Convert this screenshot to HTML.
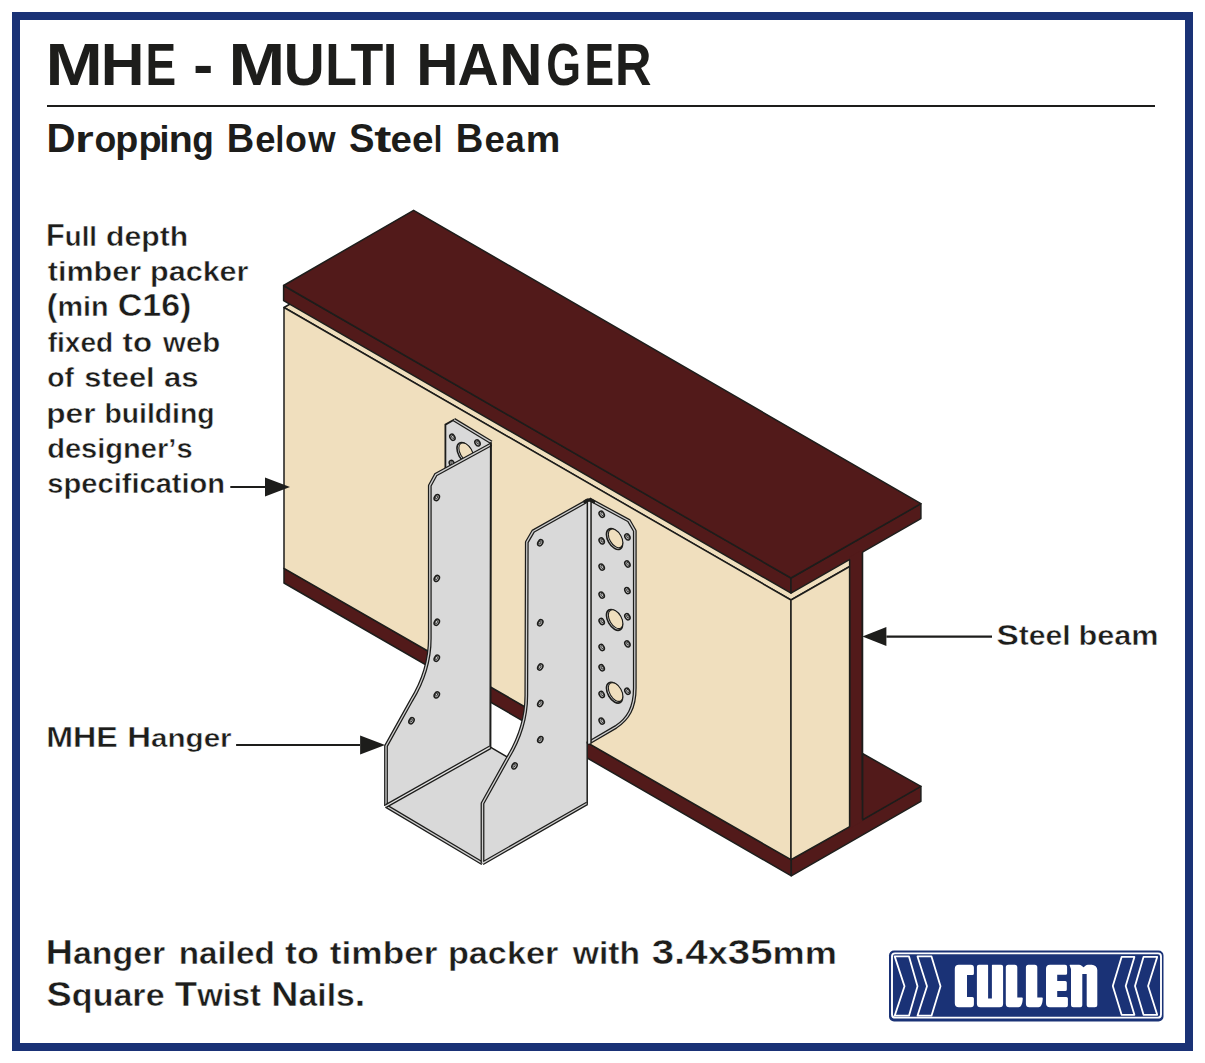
<!DOCTYPE html>
<html><head><meta charset="utf-8"><title>MHE - Multi Hanger</title>
<style>html,body{margin:0;padding:0;background:#fff;width:1205px;height:1063px;overflow:hidden}svg{display:block}</style>
</head><body>
<svg width="1205" height="1063" viewBox="0 0 1205 1063">
<rect width="1205" height="1063" fill="#fff"/>
<rect x="16" y="16" width="1173" height="1031" fill="none" stroke="#1a3276" stroke-width="8"/>
<rect x="47" y="105" width="1108" height="2" fill="#1d1d1b"/>
<g font-weight="bold" fill="#1d1d1b" style="font-family:'Liberation Sans', sans-serif;font-kerning:none;font-variant-ligatures:none">
<text x="45.40" y="84.8" font-size="59.60" textLength="57.30" lengthAdjust="spacingAndGlyphs">M</text><text x="100.75" y="84.8" font-size="59.60" textLength="43.73" lengthAdjust="spacingAndGlyphs">H</text><text x="145.62" y="84.8" font-size="59.60" textLength="30.67" lengthAdjust="spacingAndGlyphs">E</text><text x="193.16" y="84.8" font-size="59.60" textLength="19.94" lengthAdjust="spacingAndGlyphs">-</text><text x="228.45" y="84.8" font-size="59.60" textLength="56.71" lengthAdjust="spacingAndGlyphs">M</text><text x="283.79" y="84.8" font-size="59.60" textLength="40.97" lengthAdjust="spacingAndGlyphs">U</text><text x="325.23" y="84.8" font-size="59.60" textLength="31.66" lengthAdjust="spacingAndGlyphs">L</text><text x="350.50" y="84.8" font-size="59.60" textLength="32.78" lengthAdjust="spacingAndGlyphs">T</text><text x="382.67" y="84.8" font-size="59.60" textLength="14.66" lengthAdjust="spacingAndGlyphs">I</text><text x="416.29" y="84.8" font-size="59.60" textLength="42.26" lengthAdjust="spacingAndGlyphs">H</text><text x="457.38" y="84.8" font-size="59.60" textLength="41.23" lengthAdjust="spacingAndGlyphs">A</text><text x="499.39" y="84.8" font-size="59.60" textLength="43.24" lengthAdjust="spacingAndGlyphs">N</text><text x="546.16" y="84.8" font-size="59.60" textLength="34.81" lengthAdjust="spacingAndGlyphs">G</text><text x="584.43" y="84.8" font-size="59.60" textLength="29.60" lengthAdjust="spacingAndGlyphs">E</text><text x="615.12" y="84.8" font-size="59.60" textLength="36.52" lengthAdjust="spacingAndGlyphs">R</text>
<text x="46.51" y="151.7" font-size="40.70" textLength="29.09" lengthAdjust="spacingAndGlyphs">D</text><text x="75.03" y="151.7" font-size="36.63" textLength="18.69" lengthAdjust="spacingAndGlyphs">r</text><text x="94.41" y="151.7" font-size="36.63" textLength="21.79" lengthAdjust="spacingAndGlyphs">o</text><text x="115.21" y="151.7" font-size="36.63" textLength="23.03" lengthAdjust="spacingAndGlyphs">p</text><text x="138.40" y="151.7" font-size="36.63" textLength="23.15" lengthAdjust="spacingAndGlyphs">p</text><text x="159.61" y="151.7" font-size="36.63" textLength="9.92" lengthAdjust="spacingAndGlyphs">i</text><text x="168.71" y="151.7" font-size="36.63" textLength="24.03" lengthAdjust="spacingAndGlyphs">n</text><text x="192.36" y="151.7" font-size="36.63" textLength="21.50" lengthAdjust="spacingAndGlyphs">g</text><text x="226.66" y="151.7" font-size="40.70" textLength="27.47" lengthAdjust="spacingAndGlyphs">B</text><text x="255.28" y="151.7" font-size="36.63" textLength="20.27" lengthAdjust="spacingAndGlyphs">e</text><text x="275.61" y="151.7" font-size="36.63" textLength="8.71" lengthAdjust="spacingAndGlyphs">l</text><text x="284.90" y="151.7" font-size="36.63" textLength="21.90" lengthAdjust="spacingAndGlyphs">o</text><text x="308.30" y="151.7" font-size="36.63" textLength="27.33" lengthAdjust="spacingAndGlyphs">w</text><text x="348.90" y="151.7" font-size="40.70" textLength="25.49" lengthAdjust="spacingAndGlyphs">S</text><text x="374.27" y="151.7" font-size="36.63" textLength="17.16" lengthAdjust="spacingAndGlyphs">t</text><text x="390.60" y="151.7" font-size="36.63" textLength="21.42" lengthAdjust="spacingAndGlyphs">e</text><text x="412.09" y="151.7" font-size="36.63" textLength="21.54" lengthAdjust="spacingAndGlyphs">e</text><text x="433.76" y="151.7" font-size="36.63" textLength="8.50" lengthAdjust="spacingAndGlyphs">l</text><text x="455.84" y="151.7" font-size="40.70" textLength="27.59" lengthAdjust="spacingAndGlyphs">B</text><text x="484.47" y="151.7" font-size="36.63" textLength="20.38" lengthAdjust="spacingAndGlyphs">e</text><text x="505.39" y="151.7" font-size="36.63" textLength="19.09" lengthAdjust="spacingAndGlyphs">a</text><text x="525.74" y="151.7" font-size="36.63" textLength="34.57" lengthAdjust="spacingAndGlyphs">m</text>
<g stroke="#fff" stroke-width="0.45">
<text x="46.13" y="245.9" font-size="30.50" textLength="18.70" lengthAdjust="spacingAndGlyphs">F</text><text x="64.83" y="245.9" font-size="27.45" textLength="32.14" lengthAdjust="spacingAndGlyphs">ull</text><text x="106.14" y="245.9" font-size="27.45" textLength="82.05" lengthAdjust="spacingAndGlyphs">depth</text>
<text x="47.81" y="280.6" font-size="27.45" textLength="93.27" lengthAdjust="spacingAndGlyphs">timber</text><text x="150.07" y="280.6" font-size="27.45" textLength="98.41" lengthAdjust="spacingAndGlyphs">packer</text>
<text x="46.79" y="316.3" font-size="30.50" textLength="10.65" lengthAdjust="spacingAndGlyphs">(</text><text x="57.44" y="316.3" font-size="27.45" textLength="51.17" lengthAdjust="spacingAndGlyphs">min</text><text x="117.79" y="316.3" font-size="30.50" textLength="73.52" lengthAdjust="spacingAndGlyphs">C16)</text>
<text x="47.70" y="351.6" font-size="27.45" textLength="65.57" lengthAdjust="spacingAndGlyphs">fixed</text><text x="122.50" y="351.6" font-size="27.45" textLength="29.44" lengthAdjust="spacingAndGlyphs">to</text><text x="163.07" y="351.6" font-size="27.45" textLength="57.16" lengthAdjust="spacingAndGlyphs">web</text>
<text x="47.28" y="387.3" font-size="27.45" textLength="26.69" lengthAdjust="spacingAndGlyphs">of</text><text x="84.29" y="387.3" font-size="27.45" textLength="70.41" lengthAdjust="spacingAndGlyphs">steel</text><text x="163.97" y="387.3" font-size="27.45" textLength="34.63" lengthAdjust="spacingAndGlyphs">as</text>
<text x="46.30" y="422.6" font-size="27.45" textLength="49.20" lengthAdjust="spacingAndGlyphs">per</text><text x="104.51" y="422.6" font-size="27.45" textLength="110.00" lengthAdjust="spacingAndGlyphs">building</text>
<text x="47.19" y="457.9" font-size="27.45" textLength="145.42" lengthAdjust="spacingAndGlyphs">designer&#8217;s</text>
<text x="47.36" y="493.0" font-size="27.45" textLength="177.77" lengthAdjust="spacingAndGlyphs">specification</text>
<text x="46.23" y="747.3" font-size="29.50" textLength="71.55" lengthAdjust="spacingAndGlyphs">MHE</text><text x="127.18" y="747.3" font-size="29.50" textLength="23.78" lengthAdjust="spacingAndGlyphs">H</text><text x="150.96" y="747.3" font-size="26.55" textLength="80.71" lengthAdjust="spacingAndGlyphs">anger</text>
<text x="996.41" y="645.3" font-size="30.00" textLength="22.36" lengthAdjust="spacingAndGlyphs">S</text><text x="1018.77" y="645.3" font-size="27.00" textLength="51.98" lengthAdjust="spacingAndGlyphs">teel</text><text x="1078.56" y="645.3" font-size="27.00" textLength="80.06" lengthAdjust="spacingAndGlyphs">beam</text>
<text x="45.76" y="964" font-size="35.60" textLength="27.19" lengthAdjust="spacingAndGlyphs">H</text><text x="72.95" y="964" font-size="32.04" textLength="92.28" lengthAdjust="spacingAndGlyphs">anger</text><text x="178.69" y="964" font-size="32.04" textLength="96.13" lengthAdjust="spacingAndGlyphs">nailed</text><text x="284.94" y="964" font-size="32.04" textLength="33.88" lengthAdjust="spacingAndGlyphs">to</text><text x="329.85" y="964" font-size="32.04" textLength="107.60" lengthAdjust="spacingAndGlyphs">timber</text><text x="447.92" y="964" font-size="32.04" textLength="110.42" lengthAdjust="spacingAndGlyphs">packer</text><text x="572.78" y="964" font-size="32.04" textLength="67.12" lengthAdjust="spacingAndGlyphs">with</text><text x="651.76" y="964" font-size="35.60" textLength="55.93" lengthAdjust="spacingAndGlyphs">3.4</text><text x="707.69" y="964" font-size="32.04" textLength="20.14" lengthAdjust="spacingAndGlyphs">x</text><text x="727.82" y="964" font-size="35.60" textLength="44.75" lengthAdjust="spacingAndGlyphs">35</text><text x="772.57" y="964" font-size="32.04" textLength="64.39" lengthAdjust="spacingAndGlyphs">mm</text>
<text x="46.59" y="1005.5" font-size="35.60" textLength="25.24" lengthAdjust="spacingAndGlyphs">S</text><text x="71.83" y="1005.5" font-size="32.04" textLength="92.75" lengthAdjust="spacingAndGlyphs">quare</text><text x="174.87" y="1005.5" font-size="35.60" textLength="22.29" lengthAdjust="spacingAndGlyphs">T</text><text x="197.16" y="1005.5" font-size="32.04" textLength="63.86" lengthAdjust="spacingAndGlyphs">wist</text><text x="271.37" y="1005.5" font-size="35.60" textLength="27.12" lengthAdjust="spacingAndGlyphs">N</text><text x="298.49" y="1005.5" font-size="32.04" textLength="56.38" lengthAdjust="spacingAndGlyphs">ails</text><text x="354.87" y="1005.5" font-size="35.60" textLength="10.43" lengthAdjust="spacingAndGlyphs">.</text>
</g>
</g>
<polygon points="284.0,568.3 791.3,859.7 791.3,875.8 284.0,583.0" fill="#521a1a" stroke="#1d1d1b" stroke-width="1.5" stroke-linejoin="round" />
<polygon points="791.3,859.7 920.9,786.4 920.9,801.3 791.3,875.8" fill="#521a1a" stroke="#1d1d1b" stroke-width="1.5" stroke-linejoin="round" />
<polygon points="862.4,753.5 920.9,786.4 862.4,820.0" fill="#521a1a" stroke="#1d1d1b" stroke-width="1.5" stroke-linejoin="round" />
<polygon points="284.0,307.5 791.0,600.0 862.0,559.5 355.0,267.0" fill="#f0dfbe" stroke="#1d1d1b" stroke-width="1.5" stroke-linejoin="round" />
<polygon points="284.0,307.5 791.0,600.0 791.0,859.7 284.0,568.3" fill="#f0dfbe" stroke="#1d1d1b" stroke-width="1.5" stroke-linejoin="round" />
<polygon points="791.0,600.0 849.7,566.5 849.7,826.7 791.0,859.7" fill="#f0dfbe" stroke="#1d1d1b" stroke-width="1.5" stroke-linejoin="round" />
<polygon points="849.7,555.0 862.4,548.0 862.4,819.5 849.7,826.7" fill="#521a1a" stroke="#1d1d1b" stroke-width="1.5" stroke-linejoin="round" />
<polygon points="283.6,285.5 791.0,578.0 791.0,593.1 283.6,300.6" fill="#521a1a" stroke="#1d1d1b" stroke-width="1.5" stroke-linejoin="round" />
<polygon points="791.0,578.0 920.9,503.7 920.9,518.6 791.0,593.1" fill="#521a1a" stroke="#1d1d1b" stroke-width="1.5" stroke-linejoin="round" />
<polygon points="283.6,285.5 413.6,210.3 920.9,503.7 791.0,578.0" fill="#521a1a" stroke="#1d1d1b" stroke-width="1.5" stroke-linejoin="round" />
<polygon points="849.7,557.0 862.4,549.8 862.4,600 849.7,600" fill="#521a1a"/>
<polygon points="849.7,800 862.4,800 862.4,821.2 849.7,828.4" fill="#521a1a"/>
<path d="M849.7,559.4 L849.7,826.7 M862.4,552.2 L862.4,819.5" stroke="#1d1d1b" stroke-width="1.5" fill="none"/>
<line x1="230.3" y1="487" x2="265" y2="487" stroke="#1d1d1b" stroke-width="2.2"/><polygon points="265,477.5 290,487 265,496.5" fill="#1d1d1b"/>
<line x1="236.1" y1="745" x2="360.1" y2="745" stroke="#1d1d1b" stroke-width="2.2"/><polygon points="360.1,735.5 385.1,745 360.1,754.5" fill="#1d1d1b"/>
<line x1="886.4" y1="636.6" x2="992" y2="636.6" stroke="#1d1d1b" stroke-width="2.2"/><polygon points="886.4,627.1 862.4,636.6 886.4,646.1" fill="#1d1d1b"/>
<path d="M490.4,441.9 L454.0,419.7 L445.4,424.6 L445.4,600.0 L491.0,600.0 Z" fill="#d9d9d9" stroke="none"/>
<ellipse cx="465.0" cy="453.0" rx="11.39" ry="6.58" transform="rotate(60 465.0 453.0)" fill="#e4e4e4" stroke="#1d1d1b" stroke-width="1.6"/><ellipse cx="466.1" cy="452.3" rx="10.29" ry="5.94" transform="rotate(60 466.1 452.3)" fill="#f0dfbe" stroke="#1d1d1b" stroke-width="1.1"/>
<ellipse cx="452.4" cy="437.2" rx="3.30" ry="2.35" transform="rotate(60 452.4 437.2)" fill="#bcbcbc" stroke="#1d1d1b" stroke-width="1.45"/><ellipse cx="452.8" cy="436.9" rx="1.70" ry="1.00" transform="rotate(60 452.8 436.9)" fill="#d6d6d6" stroke="#1d1d1b" stroke-width="0.8"/>
<ellipse cx="477.5" cy="442.9" rx="3.30" ry="2.35" transform="rotate(60 477.5 442.9)" fill="#bcbcbc" stroke="#1d1d1b" stroke-width="1.45"/><ellipse cx="477.9" cy="442.6" rx="1.70" ry="1.00" transform="rotate(60 477.9 442.6)" fill="#d6d6d6" stroke="#1d1d1b" stroke-width="0.8"/>
<ellipse cx="451.9" cy="463.5" rx="3.30" ry="2.35" transform="rotate(60 451.9 463.5)" fill="#bcbcbc" stroke="#1d1d1b" stroke-width="1.45"/><ellipse cx="452.3" cy="463.2" rx="1.70" ry="1.00" transform="rotate(60 452.3 463.2)" fill="#d6d6d6" stroke="#1d1d1b" stroke-width="0.8"/>
<path d="M445.4,470.0 L445.4,424.6 L454.0,419.7" fill="none" stroke="#1d1d1b" stroke-width="1.8" stroke-linecap="round"/>
<path d="M454.0,419.7 L491.4,442.4" fill="none" stroke="#1d1d1b" stroke-width="3.8" stroke-linejoin="round"/><path d="M454.0,419.7 L491.4,442.4" fill="none" stroke="#cfcfcf" stroke-width="1.3" stroke-linejoin="round"/>
<path d="M491.2,444.4 L435.8,474.6 L429.8,485.6 L429.8,638.4 C429.8,665.0 420.8,685.0 411.2,700.7 L386.0,746.0 L386.0,806.0 L490.6,747.2 Z" fill="#d9d9d9" stroke="none"/>
<ellipse cx="436.8" cy="497.6" rx="3.30" ry="2.35" transform="rotate(-60 436.8 497.6)" fill="#bcbcbc" stroke="#1d1d1b" stroke-width="1.45"/><ellipse cx="436.4" cy="497.4" rx="1.70" ry="1.00" transform="rotate(-60 436.4 497.4)" fill="#d6d6d6" stroke="#1d1d1b" stroke-width="0.8"/>
<ellipse cx="436.8" cy="578.4" rx="3.30" ry="2.35" transform="rotate(-60 436.8 578.4)" fill="#bcbcbc" stroke="#1d1d1b" stroke-width="1.45"/><ellipse cx="436.4" cy="578.1" rx="1.70" ry="1.00" transform="rotate(-60 436.4 578.1)" fill="#d6d6d6" stroke="#1d1d1b" stroke-width="0.8"/>
<ellipse cx="436.8" cy="622.2" rx="3.30" ry="2.35" transform="rotate(-60 436.8 622.2)" fill="#bcbcbc" stroke="#1d1d1b" stroke-width="1.45"/><ellipse cx="436.4" cy="622.0" rx="1.70" ry="1.00" transform="rotate(-60 436.4 622.0)" fill="#d6d6d6" stroke="#1d1d1b" stroke-width="0.8"/>
<ellipse cx="436.8" cy="658.3" rx="3.30" ry="2.35" transform="rotate(-60 436.8 658.3)" fill="#bcbcbc" stroke="#1d1d1b" stroke-width="1.45"/><ellipse cx="436.4" cy="658.0" rx="1.70" ry="1.00" transform="rotate(-60 436.4 658.0)" fill="#d6d6d6" stroke="#1d1d1b" stroke-width="0.8"/>
<ellipse cx="436.8" cy="694.9" rx="3.30" ry="2.35" transform="rotate(-60 436.8 694.9)" fill="#bcbcbc" stroke="#1d1d1b" stroke-width="1.45"/><ellipse cx="436.4" cy="694.6" rx="1.70" ry="1.00" transform="rotate(-60 436.4 694.6)" fill="#d6d6d6" stroke="#1d1d1b" stroke-width="0.8"/>
<ellipse cx="411.5" cy="720.7" rx="3.30" ry="2.35" transform="rotate(-60 411.5 720.7)" fill="#bcbcbc" stroke="#1d1d1b" stroke-width="1.45"/><ellipse cx="411.1" cy="720.5" rx="1.70" ry="1.00" transform="rotate(-60 411.1 720.5)" fill="#d6d6d6" stroke="#1d1d1b" stroke-width="0.8"/>
<path d="M491.2,444.4 L435.8,474.6 L429.8,485.6 L429.8,638.4 C429.8,665.0 420.8,685.0 411.2,700.7 L386.0,746.0 L386.0,806.0" fill="none" stroke="#1d1d1b" stroke-width="3.8" stroke-linejoin="round"/><path d="M491.2,444.4 L435.8,474.6 L429.8,485.6 L429.8,638.4 C429.8,665.0 420.8,685.0 411.2,700.7 L386.0,746.0 L386.0,806.0" fill="none" stroke="#cfcfcf" stroke-width="1.3" stroke-linejoin="round"/>
<path d="M490.9,443.0 L490.4,747.2" fill="none" stroke="#1d1d1b" stroke-width="2.0" stroke-linecap="round"/>
<path d="M386.0,806.0 L490.4,747.2 L587.2,803.3 L482.5,863.4 Z" fill="#d9d9d9" stroke="none"/>
<path d="M386.0,806.0 L482.5,863.4" fill="none" stroke="#1d1d1b" stroke-width="3.8" stroke-linejoin="round"/><path d="M386.0,806.0 L482.5,863.4" fill="none" stroke="#cfcfcf" stroke-width="1.3" stroke-linejoin="round"/>
<path d="M490.4,747.2 L386.0,806.0" fill="none" stroke="#1d1d1b" stroke-width="4.0"/><path d="M490.4,747.2 L386.0,806.0" fill="none" stroke="#e4e4e4" stroke-width="1.4"/>
<path d="M490.4,747.2 L587.2,803.3" fill="none" stroke="#1d1d1b" stroke-width="1.5" stroke-linecap="round"/>
<path d="M589.2,499.2 L628.9,520.7 L634.8,530.9 L634.8,688 C634.8,708 628,719 615.8,727 L587.8,743.4 Z" fill="#d9d9d9" stroke="none"/>
<ellipse cx="601.7" cy="514.3" rx="3.30" ry="2.35" transform="rotate(60 601.7 514.3)" fill="#bcbcbc" stroke="#1d1d1b" stroke-width="1.45"/><ellipse cx="602.2" cy="514.0" rx="1.70" ry="1.00" transform="rotate(60 602.2 514.0)" fill="#d6d6d6" stroke="#1d1d1b" stroke-width="0.8"/>
<ellipse cx="601.7" cy="540.9" rx="3.30" ry="2.35" transform="rotate(60 601.7 540.9)" fill="#bcbcbc" stroke="#1d1d1b" stroke-width="1.45"/><ellipse cx="602.2" cy="540.6" rx="1.70" ry="1.00" transform="rotate(60 602.2 540.6)" fill="#d6d6d6" stroke="#1d1d1b" stroke-width="0.8"/>
<ellipse cx="601.7" cy="567.1" rx="3.30" ry="2.35" transform="rotate(60 601.7 567.1)" fill="#bcbcbc" stroke="#1d1d1b" stroke-width="1.45"/><ellipse cx="602.2" cy="566.9" rx="1.70" ry="1.00" transform="rotate(60 602.2 566.9)" fill="#d6d6d6" stroke="#1d1d1b" stroke-width="0.8"/>
<ellipse cx="601.7" cy="595.1" rx="3.30" ry="2.35" transform="rotate(60 601.7 595.1)" fill="#bcbcbc" stroke="#1d1d1b" stroke-width="1.45"/><ellipse cx="602.2" cy="594.9" rx="1.70" ry="1.00" transform="rotate(60 602.2 594.9)" fill="#d6d6d6" stroke="#1d1d1b" stroke-width="0.8"/>
<ellipse cx="601.7" cy="621.5" rx="3.30" ry="2.35" transform="rotate(60 601.7 621.5)" fill="#bcbcbc" stroke="#1d1d1b" stroke-width="1.45"/><ellipse cx="602.2" cy="621.2" rx="1.70" ry="1.00" transform="rotate(60 602.2 621.2)" fill="#d6d6d6" stroke="#1d1d1b" stroke-width="0.8"/>
<ellipse cx="601.7" cy="647.5" rx="3.30" ry="2.35" transform="rotate(60 601.7 647.5)" fill="#bcbcbc" stroke="#1d1d1b" stroke-width="1.45"/><ellipse cx="602.2" cy="647.2" rx="1.70" ry="1.00" transform="rotate(60 602.2 647.2)" fill="#d6d6d6" stroke="#1d1d1b" stroke-width="0.8"/>
<ellipse cx="601.7" cy="667.8" rx="3.30" ry="2.35" transform="rotate(60 601.7 667.8)" fill="#bcbcbc" stroke="#1d1d1b" stroke-width="1.45"/><ellipse cx="602.2" cy="667.5" rx="1.70" ry="1.00" transform="rotate(60 602.2 667.5)" fill="#d6d6d6" stroke="#1d1d1b" stroke-width="0.8"/>
<ellipse cx="601.7" cy="694.5" rx="3.30" ry="2.35" transform="rotate(60 601.7 694.5)" fill="#bcbcbc" stroke="#1d1d1b" stroke-width="1.45"/><ellipse cx="602.2" cy="694.2" rx="1.70" ry="1.00" transform="rotate(60 602.2 694.2)" fill="#d6d6d6" stroke="#1d1d1b" stroke-width="0.8"/>
<ellipse cx="601.7" cy="721.1" rx="3.30" ry="2.35" transform="rotate(60 601.7 721.1)" fill="#bcbcbc" stroke="#1d1d1b" stroke-width="1.45"/><ellipse cx="602.2" cy="720.9" rx="1.70" ry="1.00" transform="rotate(60 602.2 720.9)" fill="#d6d6d6" stroke="#1d1d1b" stroke-width="0.8"/>
<ellipse cx="627.4" cy="536.9" rx="3.30" ry="2.35" transform="rotate(60 627.4 536.9)" fill="#bcbcbc" stroke="#1d1d1b" stroke-width="1.45"/><ellipse cx="627.9" cy="536.6" rx="1.70" ry="1.00" transform="rotate(60 627.9 536.6)" fill="#d6d6d6" stroke="#1d1d1b" stroke-width="0.8"/>
<ellipse cx="627.4" cy="564.0" rx="3.30" ry="2.35" transform="rotate(60 627.4 564.0)" fill="#bcbcbc" stroke="#1d1d1b" stroke-width="1.45"/><ellipse cx="627.9" cy="563.8" rx="1.70" ry="1.00" transform="rotate(60 627.9 563.8)" fill="#d6d6d6" stroke="#1d1d1b" stroke-width="0.8"/>
<ellipse cx="627.4" cy="590.6" rx="3.30" ry="2.35" transform="rotate(60 627.4 590.6)" fill="#bcbcbc" stroke="#1d1d1b" stroke-width="1.45"/><ellipse cx="627.9" cy="590.4" rx="1.70" ry="1.00" transform="rotate(60 627.9 590.4)" fill="#d6d6d6" stroke="#1d1d1b" stroke-width="0.8"/>
<ellipse cx="627.4" cy="616.8" rx="3.30" ry="2.35" transform="rotate(60 627.4 616.8)" fill="#bcbcbc" stroke="#1d1d1b" stroke-width="1.45"/><ellipse cx="627.9" cy="616.5" rx="1.70" ry="1.00" transform="rotate(60 627.9 616.5)" fill="#d6d6d6" stroke="#1d1d1b" stroke-width="0.8"/>
<ellipse cx="627.4" cy="643.9" rx="3.30" ry="2.35" transform="rotate(60 627.4 643.9)" fill="#bcbcbc" stroke="#1d1d1b" stroke-width="1.45"/><ellipse cx="627.9" cy="643.6" rx="1.70" ry="1.00" transform="rotate(60 627.9 643.6)" fill="#d6d6d6" stroke="#1d1d1b" stroke-width="0.8"/>
<ellipse cx="627.4" cy="691.3" rx="3.30" ry="2.35" transform="rotate(60 627.4 691.3)" fill="#bcbcbc" stroke="#1d1d1b" stroke-width="1.45"/><ellipse cx="627.9" cy="691.0" rx="1.70" ry="1.00" transform="rotate(60 627.9 691.0)" fill="#d6d6d6" stroke="#1d1d1b" stroke-width="0.8"/>
<ellipse cx="614.5" cy="539.1" rx="11.39" ry="6.58" transform="rotate(60 614.5 539.1)" fill="#e4e4e4" stroke="#1d1d1b" stroke-width="1.6"/><ellipse cx="615.6" cy="538.4" rx="10.29" ry="5.94" transform="rotate(60 615.6 538.4)" fill="#f0dfbe" stroke="#1d1d1b" stroke-width="1.1"/>
<ellipse cx="614.5" cy="619.9" rx="11.39" ry="6.58" transform="rotate(60 614.5 619.9)" fill="#e4e4e4" stroke="#1d1d1b" stroke-width="1.6"/><ellipse cx="615.6" cy="619.2" rx="10.29" ry="5.94" transform="rotate(60 615.6 619.2)" fill="#f0dfbe" stroke="#1d1d1b" stroke-width="1.1"/>
<ellipse cx="614.5" cy="692.7" rx="11.39" ry="6.58" transform="rotate(60 614.5 692.7)" fill="#e4e4e4" stroke="#1d1d1b" stroke-width="1.6"/><ellipse cx="615.6" cy="692.0" rx="10.29" ry="5.94" transform="rotate(60 615.6 692.0)" fill="#f0dfbe" stroke="#1d1d1b" stroke-width="1.1"/>
<path d="M589.2,499.2 L628.9,520.7 L634.8,530.9 L634.8,688 C634.8,708 628,719 615.8,727 L587.8,743.4" fill="none" stroke="#1d1d1b" stroke-width="3.8" stroke-linejoin="round"/><path d="M589.2,499.2 L628.9,520.7 L634.8,530.9 L634.8,688 C634.8,708 628,719 615.8,727 L587.8,743.4" fill="none" stroke="#cfcfcf" stroke-width="1.3" stroke-linejoin="round"/>
<path d="M588.4,500.2 L533.2,531.2 L526.8,542.2 L526.3,695.8 C526.3,722.4 517.3,742.4 507.7,758.1 L482.5,803.4 L482.5,863.4 L587.1,804.6 Z" fill="#d9d9d9" stroke="none"/>
<ellipse cx="540.3" cy="542.7" rx="3.30" ry="2.35" transform="rotate(-60 540.3 542.7)" fill="#bcbcbc" stroke="#1d1d1b" stroke-width="1.45"/><ellipse cx="539.8" cy="542.5" rx="1.70" ry="1.00" transform="rotate(-60 539.8 542.5)" fill="#d6d6d6" stroke="#1d1d1b" stroke-width="0.8"/>
<ellipse cx="540.3" cy="622.7" rx="3.30" ry="2.35" transform="rotate(-60 540.3 622.7)" fill="#bcbcbc" stroke="#1d1d1b" stroke-width="1.45"/><ellipse cx="539.8" cy="622.5" rx="1.70" ry="1.00" transform="rotate(-60 539.8 622.5)" fill="#d6d6d6" stroke="#1d1d1b" stroke-width="0.8"/>
<ellipse cx="540.3" cy="667.0" rx="3.30" ry="2.35" transform="rotate(-60 540.3 667.0)" fill="#bcbcbc" stroke="#1d1d1b" stroke-width="1.45"/><ellipse cx="539.8" cy="666.8" rx="1.70" ry="1.00" transform="rotate(-60 539.8 666.8)" fill="#d6d6d6" stroke="#1d1d1b" stroke-width="0.8"/>
<ellipse cx="540.3" cy="703.5" rx="3.30" ry="2.35" transform="rotate(-60 540.3 703.5)" fill="#bcbcbc" stroke="#1d1d1b" stroke-width="1.45"/><ellipse cx="539.8" cy="703.2" rx="1.70" ry="1.00" transform="rotate(-60 539.8 703.2)" fill="#d6d6d6" stroke="#1d1d1b" stroke-width="0.8"/>
<ellipse cx="540.3" cy="739.6" rx="3.30" ry="2.35" transform="rotate(-60 540.3 739.6)" fill="#bcbcbc" stroke="#1d1d1b" stroke-width="1.45"/><ellipse cx="539.8" cy="739.4" rx="1.70" ry="1.00" transform="rotate(-60 539.8 739.4)" fill="#d6d6d6" stroke="#1d1d1b" stroke-width="0.8"/>
<ellipse cx="514.5" cy="765.9" rx="3.30" ry="2.35" transform="rotate(-60 514.5 765.9)" fill="#bcbcbc" stroke="#1d1d1b" stroke-width="1.45"/><ellipse cx="514.0" cy="765.6" rx="1.70" ry="1.00" transform="rotate(-60 514.0 765.6)" fill="#d6d6d6" stroke="#1d1d1b" stroke-width="0.8"/>
<path d="M588.4,500.2 L533.2,531.2 L526.8,542.2 L526.3,695.8 C526.3,722.4 517.3,742.4 507.7,758.1 L482.5,803.4 L482.5,863.4 M482.5,863.4 L587.2,803.3" fill="none" stroke="#1d1d1b" stroke-width="3.8" stroke-linejoin="round"/><path d="M588.4,500.2 L533.2,531.2 L526.8,542.2 L526.3,695.8 C526.3,722.4 517.3,742.4 507.7,758.1 L482.5,803.4 L482.5,863.4 M482.5,863.4 L587.2,803.3" fill="none" stroke="#cfcfcf" stroke-width="1.3" stroke-linejoin="round"/>
<path d="M587.2,742.0 L587.2,803.3" fill="none" stroke="#1d1d1b" stroke-width="1.5" stroke-linecap="round"/>
<path d="M589.2,499.5 L589.2,743.5" fill="none" stroke="#1d1d1b" stroke-width="5.2"/><path d="M589.2,499.5 L589.2,743.5" fill="none" stroke="#e4e4e4" stroke-width="2.2"/>
<path d="M584.8,501.6 Q589.2,498.6 593.6,501.6" fill="none" stroke="#1d1d1b" stroke-width="3.4" stroke-linecap="round"/>
<rect x="889" y="950.5" width="274.5" height="71" rx="5" fill="#1a3276"/>
<rect x="892" y="953.4" width="269" height="64.2" rx="3" fill="none" stroke="#fff" stroke-width="1.9"/>
<polygon points="894.7,956.4 909.0,956.4 917.5,986.3 909.0,1015.7 894.7,1015.7 904.5,986.3" fill="#1a3276" stroke="#fff" stroke-width="1.8" stroke-linejoin="round" />
<polygon points="917.5,956.4 931.5,956.4 940.5,986.3 931.5,1015.7 917.5,1015.7 927.0,986.3" fill="#1a3276" stroke="#fff" stroke-width="1.8" stroke-linejoin="round" />
<polygon points="1134.4,956.9 1121.6,956.9 1112.8,986.1 1121.6,1014.8 1134.4,1014.8 1125.7,986.1" fill="#1a3276" stroke="#fff" stroke-width="1.8" stroke-linejoin="round" />
<polygon points="1157.2,956.9 1143.5,956.9 1135.0,986.1 1143.5,1014.8 1157.2,1014.8 1148.1,986.1" fill="#1a3276" stroke="#fff" stroke-width="1.8" stroke-linejoin="round" />
<path d="M954.80,968.80 Q954.80,964.80 958.80,964.80 L970.90,964.80 Q973.90,964.80 973.90,967.80 L973.90,973.50 Q973.90,975.00 972.40,975.00 L967.00,975.00 Q967.00,975.00 967.00,975.00 L967.00,997.00 Q967.00,997.00 967.00,997.00 L972.40,997.00 Q973.90,997.00 973.90,998.50 L973.90,1004.20 Q973.90,1007.20 970.90,1007.20 L958.80,1007.20 Q954.80,1007.20 954.80,1003.20 Z" fill="#fff"/>
<path d="M976.90,966.80 Q976.90,964.80 978.90,964.80 L987.60,964.80 Q988.10,964.80 988.10,965.30 L988.10,998.60 Q988.10,998.60 988.10,998.60 L991.90,998.60 Q991.90,998.60 991.90,998.60 L991.90,965.30 Q991.90,964.80 992.40,964.80 L1001.10,964.80 Q1003.10,964.80 1003.10,966.80 L1003.10,1003.70 Q1003.10,1007.20 999.60,1007.20 L980.40,1007.20 Q976.90,1007.20 976.90,1003.70 Z" fill="#fff"/>
<path d="M1005.80,967.30 Q1005.80,964.80 1008.30,964.80 L1014.80,964.80 Q1017.30,964.80 1017.30,967.30 L1017.30,997.60 Q1017.30,997.60 1017.30,997.60 L1021.90,997.60 Q1022.90,997.60 1022.79,998.59 L1022.52,1001.01 Q1022.30,1003.00 1021.51,1004.84 L1021.29,1005.36 Q1020.50,1007.20 1018.50,1007.20 L1009.30,1007.20 Q1005.80,1007.20 1005.80,1003.70 Z" fill="#fff"/>
<path d="M1025.90,967.30 Q1025.90,964.80 1028.40,964.80 L1034.80,964.80 Q1037.30,964.80 1037.30,967.30 L1037.30,997.60 Q1037.30,997.60 1037.30,997.60 L1041.90,997.60 Q1042.90,997.60 1042.79,998.59 L1042.52,1001.01 Q1042.30,1003.00 1041.51,1004.84 L1041.29,1005.36 Q1040.50,1007.20 1038.50,1007.20 L1029.40,1007.20 Q1025.90,1007.20 1025.90,1003.70 Z" fill="#fff"/>
<path d="M1046.00,968.80 Q1046.00,964.80 1050.00,964.80 L1065.10,964.80 Q1067.10,964.80 1067.10,966.80 L1067.10,973.30 Q1067.10,974.80 1065.60,974.80 L1057.20,974.80 Q1057.20,974.80 1057.20,974.80 L1057.20,980.90 Q1057.20,980.90 1057.20,980.90 L1065.30,980.90 Q1066.80,980.90 1066.80,982.40 L1066.80,989.50 Q1066.80,991.00 1065.30,991.00 L1057.20,991.00 Q1057.20,991.00 1057.20,991.00 L1057.20,997.10 Q1057.20,997.10 1057.20,997.10 L1066.40,997.10 Q1067.90,997.10 1067.90,998.60 L1067.90,1005.20 Q1067.90,1007.20 1065.90,1007.20 L1050.00,1007.20 Q1046.00,1007.20 1046.00,1003.20 Z" fill="#fff"/>
<path d="M1069.58,965.27 Q1069.40,964.80 1069.90,964.80 L1079.00,964.80 Q1080.50,964.80 1081.67,965.74 L1083.21,966.99 Q1083.60,967.30 1083.98,966.97 L1085.36,965.78 Q1086.50,964.80 1088.00,964.80 L1091.77,964.80 Q1094.00,964.80 1095.65,966.30 L1095.65,966.30 Q1097.30,967.80 1097.30,970.03 L1097.30,1004.70 Q1097.30,1007.20 1094.80,1007.20 L1088.70,1007.20 Q1086.70,1007.20 1086.70,1005.20 L1086.70,974.00 Q1086.70,974.00 1086.70,974.00 L1082.30,974.00 Q1082.30,974.00 1082.30,974.00 L1082.30,1005.20 Q1082.30,1007.20 1080.30,1007.20 L1073.50,1007.20 Q1071.00,1007.20 1071.00,1004.70 L1071.00,969.40 Q1071.00,968.90 1070.82,968.43 Z" fill="#fff"/>
</svg>
</body></html>
